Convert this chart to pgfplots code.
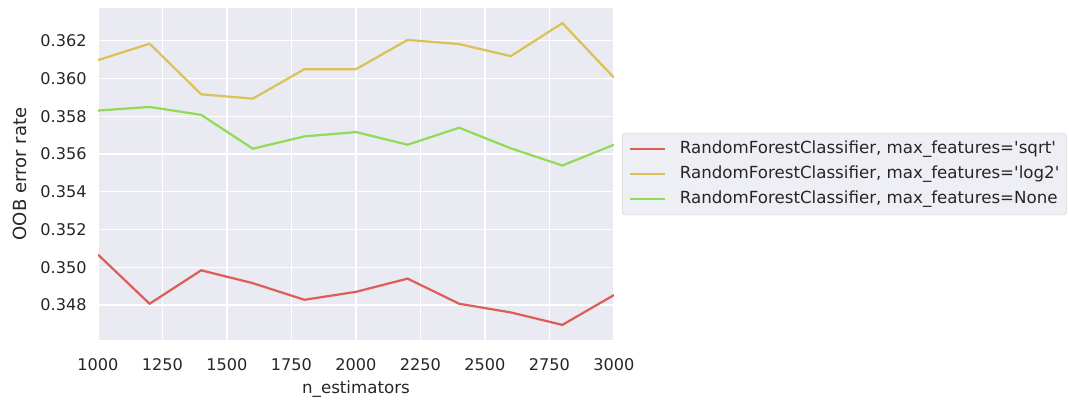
\documentclass[border=0pt]{standalone}
\usepackage{fontspec}
\setmainfont{DejaVu Sans}
\usepackage{pgfplots}
\pgfplotsset{compat=1.18}
\definecolor{bg}{HTML}{EAEAF2}
\definecolor{cred}{HTML}{DB5F57}
\definecolor{cyel}{HTML}{DBC257}
\definecolor{cgrn}{HTML}{91DB57}
\definecolor{txt}{HTML}{262626}
\definecolor{legbg}{HTML}{EEEEF5}
\definecolor{legedge}{HTML}{D6D6D6}
\begin{document}
\begin{tikzpicture}
\path[use as bounding box] (0,0) rectangle (769.68pt,288.72pt);
\begin{axis}[
  at={(70.56pt,43.92pt)}, anchor=south west,
  scale only axis, width=371.5pt, height=239.04pt,
  xmin=1000, xmax=3000, ymin=0.34615, ymax=0.36373,
  xtick={1000,1250,1500,1750,2000,2250,2500,2750,3000},
  ytick={0.348,0.350,0.352,0.354,0.356,0.358,0.360,0.362},
  axis background/.style={fill=bg},
  grid=major, major grid style={white, line width=1pt},
  axis line style={draw=none},
  tick style={draw=none},
  /pgf/number format/assume math mode=true,
  x tick label style={/pgf/number format/1000 sep={}, yshift=-9.6pt},
  y tick label style={/pgf/number format/fixed, /pgf/number format/precision=3, /pgf/number format/fixed zerofill, xshift=-4.7pt},
  tick label style={font=\fontsize{11.6}{13}\selectfont, text=txt},
  xlabel={n\_estimators},
  ylabel={OOB error rate},
  every axis x label/.style={at={(axis description cs:0.5,-0.1605)}, anchor=base, font=\fontsize{12}{14}\selectfont, text=txt},
  every axis y label/.style={at={(axis description cs:-0.1379,0.5)}, anchor=base, rotate=90, font=\fontsize{13}{15}\selectfont, text=txt},
  legend style={at={(1.0155,0.5)}, anchor=west, fill=legbg, draw=legedge, rounded corners=2pt,
    font=\fontsize{12}{14}\selectfont, text=txt, row sep=6pt, column sep=10pt,
    inner xsep=5pt, inner ysep=5.4pt,
    nodes={inner xsep=0pt, inner ysep=0pt, text height=9pt, text depth=3pt}},
  legend cell align=left,
  legend image code/.code={\draw[line width=1.5pt] (0pt,0pt) -- (25pt,0pt);},
  every axis plot/.append style={line width=1.6pt},
]
\addplot[cred] coordinates {(1000,0.35067) (1200,0.34807) (1400,0.34984) (1600,0.34916) (1800,0.34828) (2000,0.34870) (2200,0.34940) (2400,0.34807) (2600,0.34761) (2800,0.34695) (3000,0.34853)};
\addlegendentry{RandomForestClassifier, max\_features=\textquotesingle sqrt\textquotesingle}
\addplot[cyel] coordinates {(1000,0.36097) (1200,0.36184) (1400,0.35916) (1600,0.35893) (1800,0.36049) (2000,0.36049) (2200,0.36204) (2400,0.36182) (2600,0.36118) (2800,0.36293) (3000,0.36004)};
\addlegendentry{RandomForestClassifier, max\_features=\textquotesingle log2\textquotesingle}
\addplot[cgrn] coordinates {(1000,0.35830) (1200,0.35849) (1400,0.35807) (1600,0.35628) (1800,0.35693) (2000,0.35716) (2200,0.35649) (2400,0.35739) (2600,0.35630) (2800,0.35539) (3000,0.35649)};
\addlegendentry{RandomForestClassifier, max\_features=None}
\end{axis}
\end{tikzpicture}
\end{document}
